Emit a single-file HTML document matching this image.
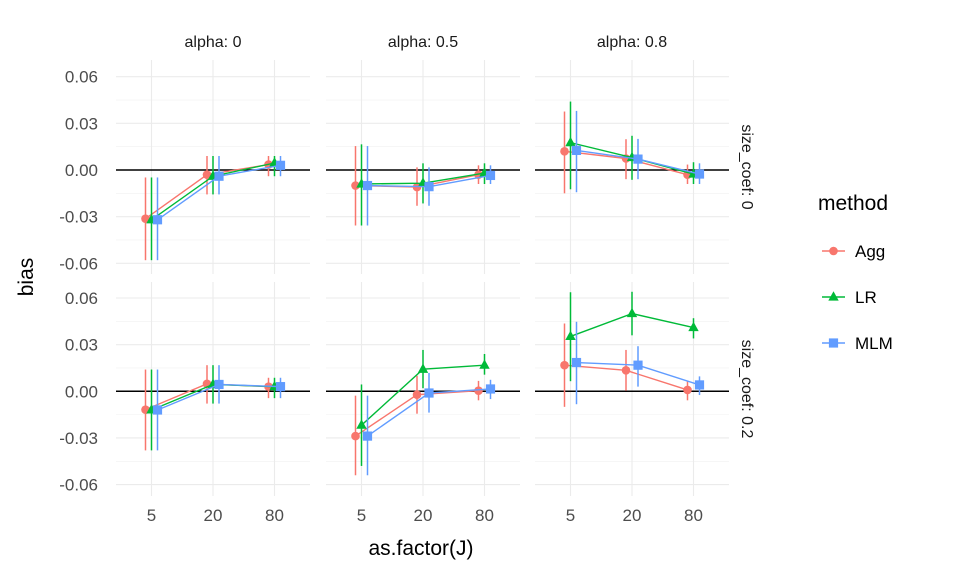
<!DOCTYPE html>
<html><head><meta charset="utf-8"><style>
html,body{margin:0;padding:0;background:#fff}
svg{display:block;font-family:"Liberation Sans",sans-serif}
</style></head><body>
<svg id="chart" width="960" height="576" viewBox="0 0 960 576"></svg>
<script>
const methods=["Agg","LR","MLM"];
const colors=["#F8766D","#00BA38","#619CFF"];
const xCats=["5","20","80"];
const alphas=["alpha: 0","alpha: 0.5","alpha: 0.8"];
const sizes=["size_coef: 0","size_coef: 0.2"];
const yTicks=[-0.06,-0.03,0,0.03,0.06];
const yTickLabels=["-0.06","-0.03","0.00","0.03","0.06"];
// est[row][col][method] = [v5,v20,v80]
const est=[
 [[[-0.0313,-0.003,0.0035],[-0.032,-0.004,0.0045],[-0.032,-0.004,0.003]],
  [[-0.010,-0.011,-0.003],[-0.009,-0.0085,-0.002],[-0.010,-0.0107,-0.0035]],
  [[0.012,0.0074,-0.003],[0.0176,0.008,-0.0026],[0.0126,0.007,-0.0026]]],
 [[[-0.0118,0.0048,0.003],[-0.012,0.0044,0.003],[-0.012,0.0044,0.003]],
  [[-0.0288,-0.0022,0.0004],[-0.0218,0.0142,0.0168],[-0.0288,-0.0011,0.0015]],
  [[0.0168,0.0135,0.0009],[0.0353,0.050,0.041],[0.0185,0.0168,0.0041]]]
];
const lo=[
 [[[-0.058,-0.0157,-0.004],[-0.058,-0.0157,-0.004],[-0.058,-0.0157,-0.004]],
  [[-0.0357,-0.023,-0.009],[-0.0357,-0.0215,-0.009],[-0.0357,-0.023,-0.009]],
  [[-0.015,-0.0059,-0.009],[-0.0124,-0.0063,-0.009],[-0.0143,-0.0059,-0.009]]],
 [[[-0.038,-0.0079,-0.0044],[-0.038,-0.0079,-0.0044],[-0.038,-0.0079,-0.0044]],
  [[-0.054,-0.0144,-0.0058],[-0.048,0.002,0.0107],[-0.054,-0.0137,-0.005]],
  [[-0.010,0.0004,-0.0058],[0.0065,0.036,0.034],[-0.0083,0.003,-0.0024]]]
];
const hi=[
 [[[-0.0048,0.009,0.009],[-0.0048,0.009,0.009],[-0.0048,0.009,0.009]],
  [[0.0154,0.0017,0.003],[0.0165,0.0043,0.0043],[0.0154,0.0017,0.003]],
  [[0.0376,0.0198,0.0035],[0.044,0.022,0.005],[0.038,0.020,0.0043]]],
 [[[0.014,0.0168,0.0087],[0.014,0.0168,0.0087],[0.014,0.0168,0.0087]],
  [[-0.0028,0.010,0.0067],[0.0044,0.0266,0.024],[-0.0028,0.0118,0.0074]],
  [[0.0436,0.0266,0.0067],[0.0637,0.064,0.047],[0.0447,0.029,0.0096]]]
];
const NS="http://www.w3.org/2000/svg";
const svg=document.getElementById("chart");
function mk(tag,attrs,parent){const e=document.createElementNS(NS,tag);for(const k in attrs)e.setAttribute(k,attrs[k]);(parent||svg).appendChild(e);return e;}
const panelX=[116,326,535], panelW=194;
const zeroY=[170,391.3], pxPerUnit=1555, panelTop=[60,282], panelH=214;
const xStep=61.5;
function xPos(c,i){return panelX[c]+panelW/2+(i-1)*xStep;}
function yPos(r,v){return zeroY[r]-v*pxPerUnit;}
const dodge=[-6,0,6];
function shape(m,x,y,g){
  let e;
  if(m===0)e=mk("circle",{cx:x,cy:y,r:4.3,fill:colors[0]},g);
  else if(m===1)e=mk("polygon",{points:`${x},${y-5.8} ${x-5.2},${y+3.6} ${x+5.2},${y+3.6}`,fill:colors[1]},g);
  else e=mk("rect",{x:x-4.6,y:y-4.6,width:9.2,height:9.2,fill:colors[2]},g);
  return e;
}
for(let r=0;r<2;r++)for(let c=0;c<3;c++){
  const g=mk("g",{});
  
  
  for(let k=0;k<yTicks.length-1;k++){
    const v=(yTicks[k]+yTicks[k+1])/2;
    mk("line",{x1:panelX[c],x2:panelX[c]+panelW,y1:yPos(r,v),y2:yPos(r,v),stroke:"#f0f0f0","stroke-width":0.6},g);
  }
  yTicks.forEach(v=>mk("line",{x1:panelX[c],x2:panelX[c]+panelW,y1:yPos(r,v),y2:yPos(r,v),stroke:"#ebebeb","stroke-width":1.1},g));
  xCats.forEach((_,i)=>mk("line",{x1:xPos(c,i),x2:xPos(c,i),y1:panelTop[r],y2:panelTop[r]+panelH,stroke:"#ebebeb","stroke-width":1.1},g));
  const hl=mk("line",{x1:panelX[c],x2:panelX[c]+panelW,y1:yPos(r,0),y2:yPos(r,0),stroke:"#000","stroke-width":1.5},g);
  
  
  for(let m=0;m<3;m++){
    const pts=xCats.map((_,i)=>`${xPos(c,i)+dodge[m]},${yPos(r,est[r][c][m][i])}`).join(" ");
    const pl=mk("polyline",{points:pts,fill:"none",stroke:colors[m],"stroke-width":1.4},g);
    
    
    xCats.forEach((_,i)=>{
      const x=xPos(c,i)+dodge[m];
      const el=mk("line",{x1:x,x2:x,y1:yPos(r,lo[r][c][m][i]),y2:yPos(r,hi[r][c][m][i]),stroke:colors[m],"stroke-width":1.5},g);
      
      
      const p=shape(m,x,yPos(r,est[r][c][m][i]),g);
      
      
    });
  }
}
function txt(s,attrs,name){const t=mk("text",attrs);t.textContent=s;return t;}
alphas.forEach((a,c)=>txt(a,{x:panelX[c]+panelW/2,y:47,"text-anchor":"middle","font-size":16,fill:"#1a1a1a"},"strip-label"));
sizes.forEach((s,r)=>txt(s,{x:0,y:0,"text-anchor":"middle","font-size":16,fill:"#1a1a1a",transform:`translate(742,${panelTop[r]+panelH/2}) rotate(90)`},"strip-label"));
for(let r=0;r<2;r++)yTicks.forEach((v,k)=>txt(yTickLabels[k],{x:98,y:yPos(r,v)+6,"text-anchor":"end","font-size":17,fill:"#4d4d4d"},"y-tick-label"));
for(let c=0;c<3;c++)xCats.forEach((s,i)=>txt(s,{x:xPos(c,i),y:521,"text-anchor":"middle","font-size":17,fill:"#4d4d4d"},"x-tick-label"));
txt("as.factor(J)",{x:421,y:555,"text-anchor":"middle","font-size":21,fill:"#000"},"x-axis-title");
txt("bias",{x:0,y:0,"text-anchor":"middle","font-size":21,fill:"#000",transform:"translate(33,277) rotate(-90)"},"y-axis-title");
txt("method",{x:818,y:210,"font-size":21,fill:"#000"},"legend-title");
const ly=[251,297,343];
methods.forEach((m,i)=>{
  const g=mk("g",{});
  
  
  mk("line",{x1:822,x2:845,y1:ly[i],y2:ly[i],stroke:colors[i],"stroke-width":1.4},g);
  shape(i,833.5,ly[i],g);
  const t=mk("text",{x:855,y:ly[i]+6,"font-size":17,fill:"#000"},g);t.textContent=m;
});
</script>
</body></html>
